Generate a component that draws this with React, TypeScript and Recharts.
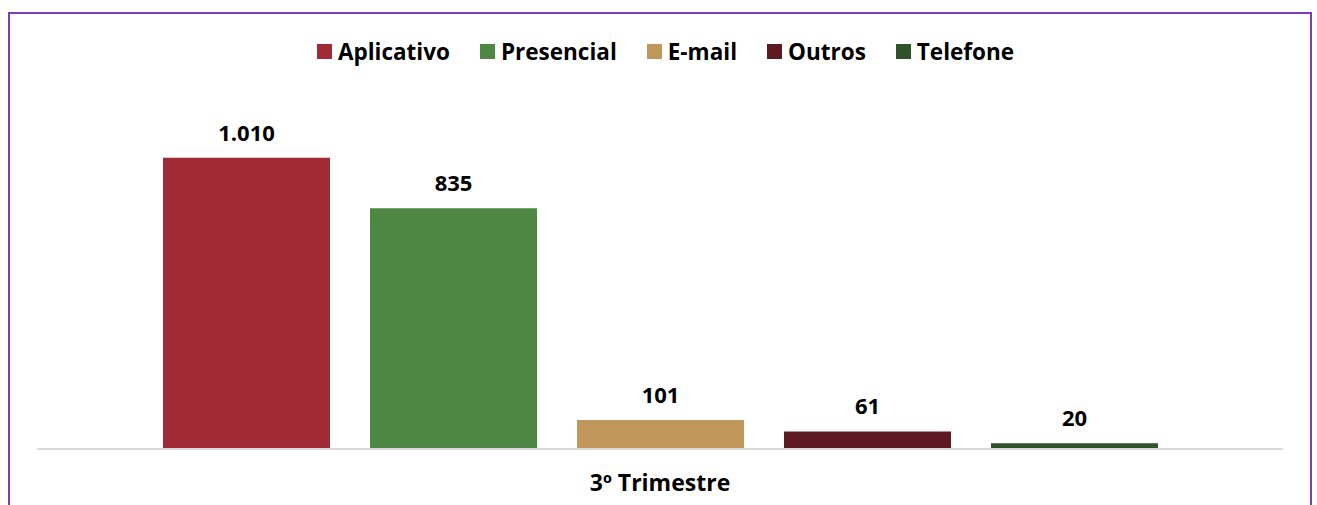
import { BarChart, Bar, XAxis, YAxis, Legend, LabelList } from 'recharts';

const categories = ['3º Trimestre'];
const seriesNames = ['Aplicativo', 'Presencial', 'E-mail', 'Outros', 'Telefone'];
const seriesValues = [[1010], [835], [101], [61], [20]];
const seriesColors = ['#A12A37', '#4E8743', '#C0965A', '#5E1A22', '#30522B'];

const FONT = '"Open Sans", "Noto Sans", sans-serif';

const data = categories.map((name, ci) => {
  const row: Record<string, string | number> = { name };
  seriesNames.forEach((s, si) => { row[s] = seriesValues[si][ci]; });
  return row;
});

const fmt = (v: any) => Number(v).toLocaleString('pt-BR');

function LegendContent() {
  return (
    <div style={{ display: 'flex', justifyContent: 'center', alignItems: 'center', height: 40, paddingLeft: 11, fontFamily: FONT, fontWeight: 700, fontSize: 22.5, color: '#000' }}>
      {seriesNames.map((s, i) => (
        <div key={s} style={{ display: 'flex', alignItems: 'center', marginLeft: i === 0 ? 0 : 30 }}>
          <span style={{ width: 15, height: 15, background: seriesColors[i], display: 'inline-block', marginRight: 6 }} />
          <span>{s}</span>
        </div>
      ))}
    </div>
  );
}

function CategoryTick({ x, y, payload }: any) {
  return (
    <text x={x} y={y} dy={34} textAnchor="middle" fontFamily={FONT} fontWeight={700} fontSize={23} fill="#000">
      {payload.value}
    </text>
  );
}

export default function App() {
  return (
    <div style={{ position: 'absolute', left: 0, top: 0, width: 1317, height: 505, background: '#fff', overflow: 'hidden' }}>
      {/* purple frame, bottom edge cut off by the page */}
      <div style={{ position: 'absolute', left: 8, top: 12, width: 1304, height: 520, border: '2px solid #7B3FB3', boxSizing: 'border-box' }} />
      <div style={{ position: 'absolute', left: 0, top: 0 }}>
        <BarChart
          width={1317}
          height={505}
          data={data}
          margin={{ top: 63, right: 34, left: 37, bottom: 0 }}
          barGap={40}
          barSize={167}
        >
          <XAxis
            dataKey="name"
            axisLine={{ stroke: '#D9D9D9', strokeWidth: 2 }}
            tickLine={false}
            height={56}
            tick={<CategoryTick />}
          />
          <YAxis hide domain={[0, 1200]} />
          <Legend verticalAlign="top" align="center" content={<LegendContent />} wrapperStyle={{ top: 31 }} />
          {seriesNames.map((s, i) => (
            <Bar key={s} dataKey={s} fill={seriesColors[i]} isAnimationActive={false}>
              <LabelList
                dataKey={s}
                position="top"
                offset={17}
                formatter={fmt}
                style={{ fontFamily: FONT, fontWeight: 700, fontSize: 22, fill: '#000' }}
              />
            </Bar>
          ))}
        </BarChart>
      </div>
    </div>
  );
}
